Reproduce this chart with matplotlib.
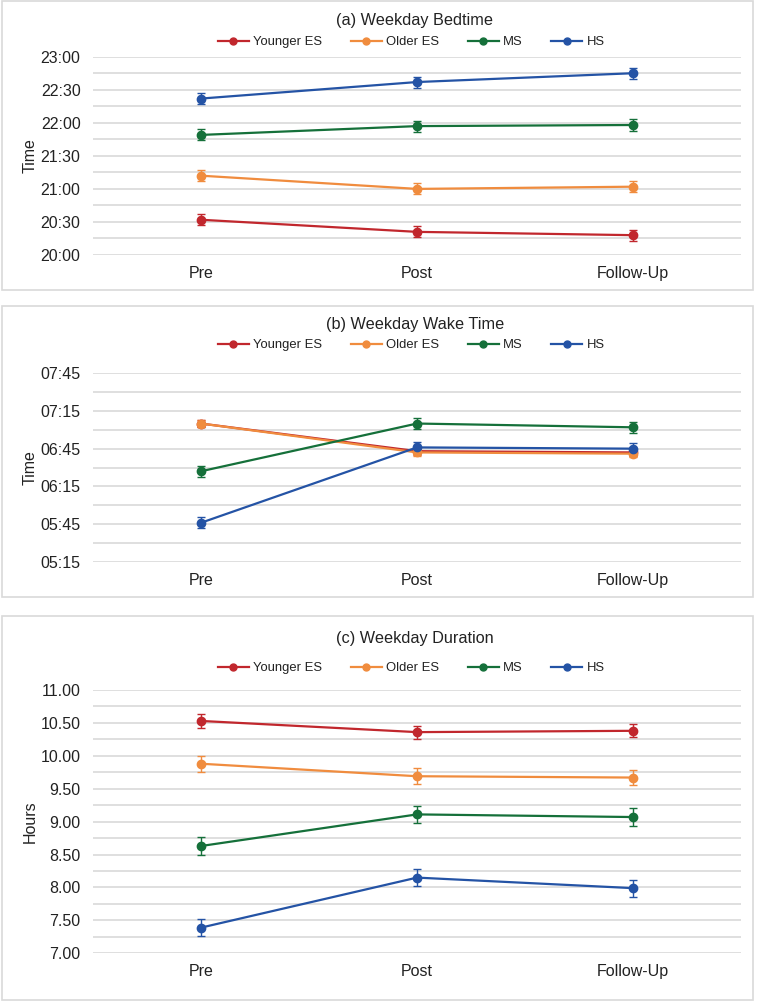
import matplotlib
matplotlib.use("Agg")
import matplotlib.pyplot as plt
from matplotlib.patches import Rectangle
from matplotlib.lines import Line2D
from matplotlib.ticker import MultipleLocator, FuncFormatter
import numpy as np

plt.rcParams['font.family'] = ['Liberation Sans', 'DejaVu Sans']

# data
groups = ["Younger ES", "Older ES", "MS", "HS"]
phases = ["Pre", "Post", "Follow-Up"]
colors = ["#C1272D", "#F08C3E", "#15703A", "#2453A5"]

bed_younger = ["20:32", "20:21", "20:18"]
bed_older = ["21:12", "21:00", "21:02"]
bed_ms = ["21:49", "21:57", "21:58"]
bed_hs = ["22:22", "22:37", "22:45"]
bed_err_min = [5, 5, 5, 5]

wake_younger = ["07:05", "06:43", "06:42"]
wake_older = ["07:05", "06:42", "06:41"]
wake_ms = ["06:27", "07:05", "07:02"]
wake_hs = ["05:46", "06:46", "06:45"]
wake_err_min = [3, 3, 4.5, 4.5]

dur_younger = [10.53, 10.36, 10.38]
dur_older = [9.88, 9.69, 9.67]
dur_ms = [8.63, 9.11, 9.07]
dur_hs = [7.39, 8.15, 7.99]
dur_err = [0.10, 0.12, 0.13, 0.13]


def to_hours(lst):
    out = []
    for s in lst:
        h, m = s.split(":")
        out.append(int(h) + int(m) / 60.0)
    return out


def hhmm(v, pos=None):
    tot = int(round(v * 60))
    return "%02d:%02d" % (tot // 60, tot % 60)


W, H = 757, 1001
fig = plt.figure(figsize=(W / 100, H / 100), dpi=100)
CX = 415  # centre of plot area, px


def px_axes(x0, y0, x1, y1):
    # pixel box (top-left origin) -> axes
    return fig.add_axes([x0 / W, 1 - y1 / H, (x1 - x0) / W, (y1 - y0) / H])


def panel_box(y0, y1):
    fig.patches.append(Rectangle((1.5 / W, 1 - y1 / H), (753 - 1.5) / W, (y1 - y0) / H,
                                 transform=fig.transFigure, fill=False,
                                 edgecolor="#D9D9D9", linewidth=1.2))


def draw(ax, series, errs, ylo, yhi, major, minor, fmt, title, title_y, leg_y, ylabel):
    x = np.arange(len(phases))
    for g, vals, e, c in zip(groups, series, errs, colors):
        ax.errorbar(x, vals, yerr=e, color=c, marker="o", markersize=6,
                    linewidth=1.6, elinewidth=1.0, capsize=3, capthick=1.0)
    ax.set_xlim(-0.5, len(phases) - 0.5)
    ax.set_ylim(ylo, yhi)
    ax.set_xticks(x)
    ax.set_xticklabels(phases)
    ax.yaxis.set_major_locator(MultipleLocator(major))
    ax.yaxis.set_minor_locator(MultipleLocator(minor))
    ax.yaxis.set_major_formatter(FuncFormatter(fmt))
    ax.grid(True, which="both", axis="y", color="#D9D9D9", linewidth=1.2)
    ax.set_axisbelow(True)
    for s in ax.spines.values():
        s.set_visible(False)
    ax.tick_params(axis="both", which="both", length=0, labelsize=11.5, colors="#222222")
    ax.tick_params(axis="y", pad=9)
    ax.tick_params(axis="x", pad=8)
    fig.text(CX / W, 1 - title_y / H, title, ha="center", va="center", fontsize=11.7, color="#222222")
    pos = ax.get_position()
    fig.text(30 / W, (pos.y0 + pos.y1) / 2, ylabel, rotation=90, ha="center", va="center",
             fontsize=11.5, color="#222222")
    handles = [Line2D([], [], color=c, marker="o", markersize=5, linewidth=1.6) for c in colors]
    ax.legend(handles, groups, loc="center", bbox_to_anchor=(411 / W, 1 - leg_y / H),
              bbox_transform=fig.transFigure, ncol=4, frameon=False, fontsize=9.4,
              handlelength=2.4, handletextpad=0.3, columnspacing=2.2, labelcolor="#222222")


# (a) bedtime
panel_box(1, 290)
ax1 = px_axes(93, 56.7, 741, 255)
bed = [to_hours(bed_younger), to_hours(bed_older), to_hours(bed_ms), to_hours(bed_hs)]
draw(ax1, bed, [e / 60 for e in bed_err_min], 20, 23, 0.5, 0.25, hhmm,
     "(a) Weekday Bedtime", 20, 42, "Time")

# (b) wake time
panel_box(306, 597)
ax2 = px_axes(93, 373.3, 741, 561.7)
wake = [to_hours(wake_younger), to_hours(wake_older), to_hours(wake_ms), to_hours(wake_hs)]
draw(ax2, wake, [e / 60 for e in wake_err_min], 5.25, 7.75, 0.5, 0.25, hhmm,
     "(b) Weekday Wake Time", 325, 345, "Time")
ax2.yaxis.set_major_locator(MultipleLocator(0.5, offset=0.25))

# (c) duration
panel_box(616, 1000)
ax3 = px_axes(93, 690, 741, 953.3)
dur = [dur_younger, dur_older, dur_ms, dur_hs]
draw(ax3, dur, dur_err, 7, 11, 0.5, 0.25, lambda v, p: "%.2f" % v,
     "(c) Weekday Duration", 638, 668, "Hours")

fig.savefig("out.png", dpi=100)
